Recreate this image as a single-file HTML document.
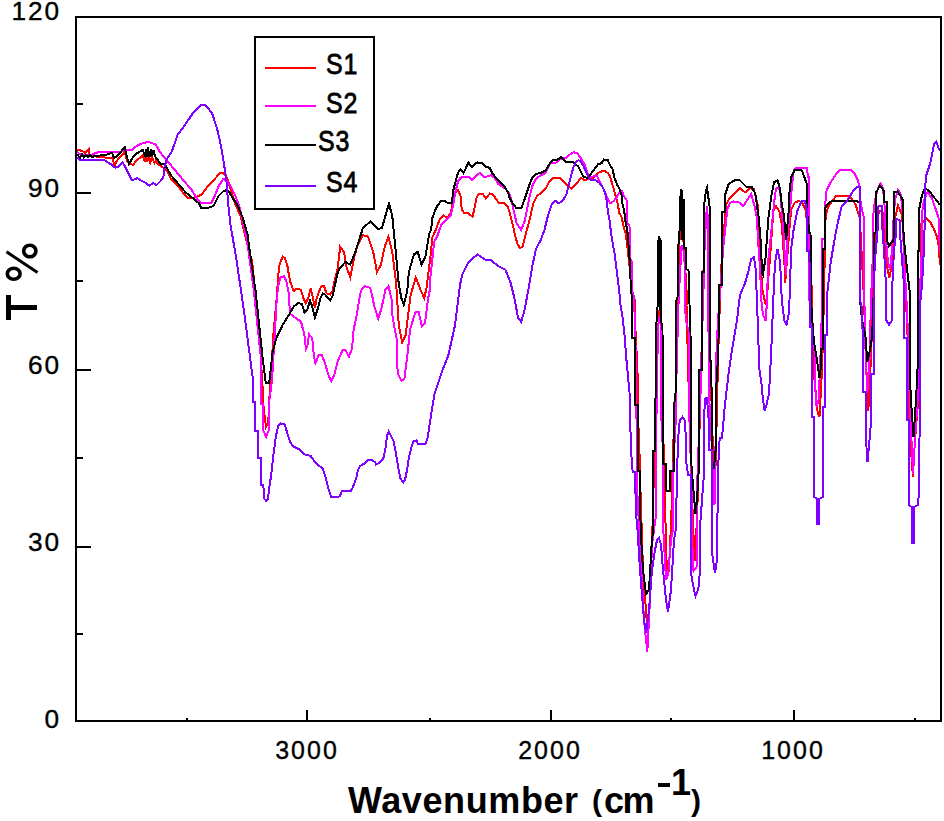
<!DOCTYPE html>
<html><head><meta charset="utf-8"><style>
html,body{margin:0;padding:0;background:#fff;}
body{width:944px;height:821px;position:relative;overflow:hidden;font-family:"Liberation Sans",sans-serif;}
svg{position:absolute;left:0;top:0;}
.t{position:absolute;white-space:nowrap;color:#000;line-height:1;}
.yl{font-size:25px;letter-spacing:1.8px;text-align:right;width:61px;-webkit-text-stroke:0.35px #000;transform:scaleX(1.05);transform-origin:59px 0;}
.xl{font-size:25px;letter-spacing:2px;text-align:center;width:100px;-webkit-text-stroke:0.35px #000;}
.lg{font-size:29px;font-weight:normal;-webkit-text-stroke:0.8px #000;letter-spacing:1px;transform:scaleX(0.86);transform-origin:0 0;}
</style></head><body>
<svg width="944" height="821" viewBox="0 0 944 821">
<g fill="none" stroke-linejoin="miter" shape-rendering="crispEdges">
<polyline points="76.0,149.6 78.1,149.6 82.4,151.2 85.0,153.0 88.7,149.6 89.2,155.4 91.9,156.0 104.6,157.5 112.0,157.5 114.7,165.0 116.3,161.8 118.4,158.6 120.5,156.5 124.7,152.2 127.4,161.8 130.0,163.9 133.2,165.0 136.4,160.2 139.6,158.1 142.7,154.9 144.9,161.8 146.0,156.0 147.0,162.0 148.5,157.0 150.2,163.0 152.0,157.0 154.4,163.0 156.0,160.0 157.6,163.9 160.7,166.0 163.9,168.1 167.1,171.3 171.0,179.0 178.3,186.3 185.6,196.0 189.2,198.5 195.3,197.3 201.4,194.8 208.7,185.0 214.8,179.0 219.7,172.9 223.3,172.9 227.0,177.8 230.6,188.7 235.5,204.6 240.4,215.5 245.3,236.2 252.2,262.0 256.0,300.0 260.7,352.5 262.0,380.0 263.2,394.0 263.2,403.7 264.5,415.0 266.1,427.0 267.5,424.0 268.8,414.8 268.8,402.0 270.2,390.0 273.6,332.0 273.6,332.0 276.5,300.0 279.0,266.5 282.6,256.5 285.0,258.0 287.5,266.5 290.0,281.2 293.6,291.0 297.2,288.5 301.0,290.0 303.3,298.0 305.8,303.0 308.2,298.0 310.6,288.5 313.0,298.0 314.9,308.0 316.7,298.0 319.2,291.0 321.6,286.0 324.0,286.0 326.5,293.3 330.1,294.6 332.6,291.0 335.0,278.7 337.4,270.2 339.3,254.4 340.2,246.8 344.0,251.9 346.5,267.1 350.3,277.3 354.2,257.0 358.0,244.2 363.0,235.3 368.1,236.6 373.2,251.9 377.0,272.2 380.9,264.6 384.7,246.8 388.5,236.6 392.3,251.9 396.1,282.4 398.8,325.2 402.2,342.3 405.6,335.5 410.7,294.5 415.8,277.5 421.0,291.0 424.3,298.0 426.6,287.5 430.4,257.0 432.4,237.4 436.1,229.0 439.7,219.2 443.4,215.5 447.0,218.0 450.7,213.1 453.1,200.9 455.6,192.4 458.0,190.0 460.5,196.0 461.7,209.4 464.1,213.1 467.8,213.1 472.6,216.7 474.5,208.2 476.3,198.5 478.7,193.6 482.4,193.6 486.0,198.5 489.7,193.6 493.3,194.8 496.4,199.7 499.4,203.3 504.3,203.3 508.0,207.0 510.4,215.5 512.8,225.3 515.3,236.2 517.5,244.0 520.0,248.0 522.5,247.0 524.9,237.4 529.7,219.2 533.4,203.3 537.0,196.0 541.9,192.4 545.6,188.7 549.2,181.4 552.9,177.8 560.2,177.8 563.8,181.4 567.5,185.1 571.2,188.7 573.6,186.3 577.2,182.6 580.9,177.8 584.6,180.2 589.4,179.0 593.1,177.8 598.0,172.9 604.0,170.5 607.7,172.9 610.1,176.5 612.6,185.1 615.0,193.6 617.4,202.1 619.3,213.1 621.8,217.3 623.0,224.5 626.0,235.0 630.0,270.0 632.4,300.0 634.6,300.0 634.6,314.0 636.0,340.0 637.6,374.7 637.6,405.0 640.0,467.0 640.0,476.0 643.0,570.0 647.3,629.0 650.0,600.0 652.0,545.0 654.0,470.0 656.0,400.0 658.0,330.0 659.5,310.0 661.0,320.0 663.0,420.0 664.3,480.0 666.0,540.0 667.0,578.0 669.0,570.0 671.4,514.0 673.0,450.0 676.0,385.0 678.0,300.0 679.5,240.0 681.0,220.0 683.9,245.0 686.5,290.0 686.5,305.0 689.0,400.0 691.0,470.0 694.5,561.0 697.0,520.0 699.5,430.0 701.8,340.0 704.0,250.0 707.0,207.0 709.5,250.0 710.5,360.0 712.0,420.0 714.5,500.0 716.0,450.0 718.0,360.0 720.0,300.0 722.3,245.0 724.9,220.0 726.0,205.0 728.4,200.0 733.0,195.0 740.0,188.2 745.1,192.4 750.2,188.2 753.7,189.0 755.4,195.9 757.9,206.1 759.5,240.0 761.0,270.0 762.5,290.0 764.5,300.0 765.8,305.0 767.5,290.0 769.0,270.0 770.7,248.8 773.3,211.2 775.9,206.1 779.3,211.2 781.8,225.0 784.4,262.4 785.2,283.0 787.0,260.0 789.5,228.3 791.2,209.5 794.6,202.7 798.9,201.0 802.3,202.7 805.5,210.0 807.4,225.0 809.4,231.7 811.0,260.0 812.5,330.0 814.5,380.0 817.6,412.0 819.5,416.8 821.5,380.0 823.0,340.0 824.8,254.0 825.6,216.3 828.0,207.0 835.9,195.9 849.5,195.9 855.5,204.4 859.8,218.0 862.0,260.0 864.0,300.0 866.0,360.0 868.3,411.0 870.0,380.0 872.0,330.0 874.0,260.0 875.9,233.4 875.9,220.7 879.8,211.0 883.8,212.8 883.8,225.4 886.0,250.0 887.0,266.6 889.4,277.7 891.7,266.6 893.5,240.0 894.5,220.0 898.0,205.6 902.0,215.0 903.6,236.0 906.0,300.0 907.6,337.5 909.0,412.0 911.0,450.0 912.9,476.5 915.0,440.0 917.5,409.0 918.6,394.5 919.4,300.0 921.0,290.0 921.0,224.0 926.6,218.3 930.5,222.3 933.7,228.6 936.9,236.5 938.5,244.5 940.0,265.0" stroke="#ff0000" stroke-width="2"/>
<polyline points="76.0,152.2 77.6,152.2 80.2,154.4 90.8,154.9 98.2,152.2 111.0,152.2 116.3,152.2 120.5,151.7 126.8,149.6 132.1,149.6 135.3,147.0 139.6,144.3 148.0,141.7 155.4,144.3 158.6,149.6 160.0,152.2 166.1,159.5 172.2,166.8 178.3,174.1 184.4,181.4 191.7,190.0 197.8,199.7 201.4,203.3 211.2,203.3 214.8,196.0 218.5,186.3 223.3,179.0 226.4,180.2 230.6,186.3 235.5,196.0 239.2,205.8 245.3,232.6 247.0,240.0 253.9,291.0 260.7,356.0 260.9,380.0 260.9,403.7 263.2,403.7 263.2,430.0 266.1,437.0 268.8,430.0 268.8,403.0 270.2,395.0 272.0,380.0 274.3,342.3 274.3,342.3 276.5,303.0 277.8,288.5 280.2,277.5 283.9,276.3 286.3,281.2 288.7,293.3 290.0,313.8 296.4,318.6 301.1,321.8 304.3,334.5 305.9,348.8 307.5,345.0 309.1,334.5 312.2,337.7 313.8,355.2 315.4,363.1 318.6,355.2 321.8,355.2 325.0,363.1 328.1,374.2 331.3,381.4 334.5,374.2 337.7,361.5 342.4,350.4 345.6,350.4 348.8,356.7 352.0,348.8 353.6,329.7 356.7,315.4 360.0,294.8 361.5,290.0 364.7,286.0 369.8,287.7 371.0,290.0 374.2,305.9 378.2,318.6 381.4,309.0 385.3,290.0 388.5,286.0 391.7,300.0 391.7,310.7 394.0,325.0 396.5,337.7 396.5,363.1 398.5,375.0 401.2,380.6 404.4,379.0 407.6,353.6 410.0,330.0 412.4,321.8 415.5,312.2 418.7,312.2 421.9,326.5 425.0,323.4 428.2,298.0 429.8,290.0 430.4,277.3 434.2,241.7 437.3,236.2 441.0,225.3 445.8,220.4 450.7,215.5 453.1,205.8 455.0,193.6 458.0,181.4 460.5,177.8 465.3,176.5 469.0,176.5 472.0,180.2 476.3,175.3 480.0,172.9 483.6,176.5 487.2,176.5 490.9,175.3 494.6,177.8 498.2,183.8 501.9,186.3 505.5,188.7 509.2,193.6 511.6,200.9 514.0,211.9 516.5,222.8 521.2,230.1 524.9,220.4 527.3,208.2 529.7,196.0 532.2,186.3 535.8,179.0 540.7,175.3 545.6,172.9 550.5,163.1 556.5,162.5 561.4,158.3 566.3,157.7 569.9,154.6 573.6,152.2 577.2,153.4 580.9,158.3 584.6,164.4 587.0,171.7 589.4,176.5 593.1,176.5 596.7,175.3 600.4,182.6 604.0,190.0 607.7,198.5 610.1,203.3 613.8,200.9 617.4,196.0 620.0,191.0 622.0,191.0 624.0,196.0 626.5,200.0 627.5,223.0 629.5,226.0 630.0,258.0 632.0,262.0 632.5,292.0 634.0,296.0 634.6,314.6 636.0,360.0 637.0,476.0 637.7,502.0 640.0,540.0 644.0,620.0 647.3,652.0 650.0,600.0 652.0,545.0 656.0,515.0 656.0,451.0 657.0,380.0 658.0,330.0 659.0,318.0 661.0,320.0 661.0,420.0 661.7,420.0 663.3,464.0 663.3,530.0 666.0,580.0 668.0,575.0 671.0,540.0 672.9,530.0 673.0,471.0 676.2,412.0 676.2,385.0 678.0,320.0 678.8,296.0 680.5,265.0 681.5,246.0 683.0,246.0 684.8,265.0 685.6,320.0 689.0,332.0 689.0,407.0 691.6,485.0 691.6,528.0 693.5,571.0 696.5,567.0 696.5,506.0 698.0,460.0 701.0,381.0 701.0,369.5 703.5,289.0 703.5,272.0 706.0,219.0 707.0,205.6 707.8,219.0 708.7,361.0 709.5,404.0 712.0,450.0 714.5,505.0 716.3,400.0 716.3,356.0 718.0,320.0 720.6,286.0 723.2,248.0 727.4,209.0 730.0,203.0 733.6,201.5 740.0,202.7 743.4,206.0 747.7,199.3 751.1,194.0 754.5,206.0 757.0,218.0 757.9,238.5 759.6,262.4 760.5,279.5 761.3,300.0 763.0,315.0 765.8,321.0 767.0,300.0 768.2,260.7 771.6,228.3 774.1,202.7 775.9,189.0 778.4,187.3 780.1,190.7 783.5,231.7 785.2,262.4 786.0,275.0 787.8,231.7 790.0,210.0 792.1,184.0 793.8,170.2 796.3,167.7 806.6,167.7 808.3,177.0 809.4,177.0 809.4,300.0 812.0,330.0 814.6,350.0 814.6,380.0 816.6,407.0 818.5,400.0 820.0,370.0 821.0,340.0 822.2,300.0 822.2,238.5 824.8,238.5 825.2,205.0 826.5,190.7 830.7,182.2 834.1,177.0 839.3,170.2 851.2,170.2 854.6,173.7 858.0,180.5 859.8,189.0 860.6,202.7 862.3,211.0 864.0,218.0 864.0,283.0 865.6,353.0 867.3,393.4 869.5,360.0 871.0,300.0 872.7,260.0 873.5,212.8 875.0,200.0 878.0,188.0 880.6,183.5 883.0,188.0 884.5,205.0 886.0,240.0 888.0,262.0 890.0,270.0 892.0,250.0 893.5,220.0 895.0,200.0 898.0,189.8 901.0,195.0 902.8,215.0 904.0,260.0 906.0,290.0 907.6,324.9 909.0,369.0 910.0,412.0 912.0,450.0 913.0,474.0 915.0,440.0 917.9,394.5 917.9,369.0 919.5,300.0 921.8,251.0 921.8,215.0 924.0,200.0 927.4,192.2 932.0,198.5 935.3,208.0 938.5,217.5 940.0,252.0" stroke="#ff00ff" stroke-width="2"/>
<polyline points="76.0,155.4 77.6,155.4 78.0,155.4 80.0,157.5 82.0,154.5 84.0,157.5 86.0,155.0 88.0,157.5 90.0,155.0 92.0,157.5 95.0,155.5 97.2,156.5 100.0,155.5 104.6,155.4 112.0,152.8 114.1,158.1 118.4,154.9 122.6,149.6 124.7,147.0 126.8,156.5 129.0,163.9 132.1,158.6 135.3,154.4 139.6,151.7 142.7,149.6 144.9,155.4 146.0,149.0 147.0,157.0 148.0,147.5 149.5,157.0 151.0,149.0 152.3,156.0 153.5,150.0 155.4,157.0 157.6,159.7 160.7,163.9 164.9,164.4 171.0,175.3 178.3,183.8 185.6,192.4 191.7,197.3 199.0,203.3 201.4,208.2 207.5,208.2 213.6,205.8 218.5,196.0 223.3,191.2 227.0,190.0 229.4,192.4 233.0,198.5 237.9,205.8 242.8,218.0 247.7,235.0 248.9,245.3 255.6,291.0 262.4,356.0 265.8,383.2 269.2,383.2 272.6,352.5 276.0,338.9 282.6,325.0 288.7,315.3 293.6,306.7 298.5,303.0 302.1,304.3 304.6,312.8 307.0,310.4 310.0,300.6 311.9,305.5 314.9,317.7 318.0,308.0 320.4,298.0 322.8,293.3 325.3,294.6 327.7,298.0 330.1,300.6 332.6,295.8 335.0,284.8 337.4,273.9 339.3,269.0 345.3,262.0 350.3,264.6 355.4,251.9 363.0,227.7 370.7,221.4 378.3,229.0 382.1,227.7 386.0,213.7 389.0,203.6 392.3,216.3 394.8,241.7 398.6,282.4 401.2,297.6 403.9,304.8 407.3,291.0 408.8,272.2 413.9,254.4 417.7,251.9 421.5,264.6 425.3,257.0 429.2,234.0 431.2,229.0 432.4,218.0 434.9,210.6 437.3,205.8 441.0,200.9 444.6,200.9 448.3,203.3 451.9,203.3 453.1,191.2 455.6,181.4 458.0,172.9 460.5,169.2 463.5,172.9 465.9,168.0 468.4,162.5 472.0,167.4 475.1,163.8 477.5,162.5 482.4,163.1 484.8,166.2 489.7,168.0 492.1,172.9 495.8,177.8 500.6,182.6 504.3,186.3 508.0,192.4 509.8,198.5 512.8,203.3 516.5,208.2 521.2,208.2 524.9,198.5 527.3,191.2 529.7,183.8 532.2,177.8 535.8,174.1 540.7,172.9 545.6,170.5 549.2,164.4 552.9,159.5 557.8,159.5 561.4,157.0 566.3,161.9 573.6,162.5 578.5,166.8 580.9,171.7 583.3,176.5 587.0,177.8 590.6,174.1 594.3,169.2 598.0,164.4 601.6,163.1 604.0,159.5 607.7,160.1 610.1,165.6 612.6,169.2 614.4,177.8 617.4,185.1 619.6,189.2 621.8,196.0 622.6,204.6 624.3,211.4 625.2,220.0 627.4,231.0 629.6,259.6 631.0,290.0 632.4,300.0 632.4,338.0 634.6,338.0 634.6,405.0 637.6,405.0 637.7,471.0 640.0,471.0 640.6,530.0 643.0,570.0 646.0,594.0 649.0,590.0 651.6,545.0 653.1,530.0 653.1,451.0 655.3,451.0 655.5,400.0 656.0,330.0 658.0,300.0 658.0,245.0 659.0,236.0 660.0,240.0 660.0,310.0 660.0,245.0 661.0,240.0 661.0,320.0 662.5,330.0 662.8,420.0 663.3,464.0 665.5,464.0 665.5,489.0 667.0,491.0 670.0,491.0 670.0,471.0 673.6,471.0 673.6,410.0 676.4,385.0 676.4,300.0 677.9,296.0 678.0,250.0 680.0,225.0 680.0,200.0 681.5,189.4 682.0,200.0 682.0,240.0 682.0,200.0 683.5,200.0 683.5,248.0 685.6,248.0 685.6,269.0 688.5,270.0 689.0,290.0 690.5,332.0 691.0,460.0 693.0,485.0 695.5,514.0 697.0,500.0 699.3,460.0 699.3,369.5 701.8,369.5 701.8,272.0 704.0,272.0 704.0,205.6 706.0,190.0 707.0,187.7 709.5,205.6 709.5,361.0 711.2,361.0 712.5,468.0 714.0,468.0 715.5,451.5 715.5,400.0 718.0,357.6 719.0,320.0 719.0,285.0 721.5,285.0 721.5,212.4 724.9,212.4 724.9,195.4 728.3,185.0 730.0,183.0 736.0,179.6 740.0,180.5 746.8,187.3 752.0,187.3 755.4,194.0 757.0,206.0 758.8,218.0 760.5,238.5 761.3,255.6 762.2,272.7 763.0,274.4 765.6,257.3 768.2,219.8 771.6,194.0 774.1,182.2 777.6,180.5 780.1,189.0 781.8,204.4 783.5,213.0 785.2,228.3 786.1,240.2 788.7,211.2 789.5,192.4 791.2,177.0 794.6,170.2 799.8,170.2 801.7,170.2 804.3,177.0 806.8,184.0 806.8,209.5 809.4,233.0 810.5,233.0 811.0,300.0 812.2,319.0 814.0,342.0 817.0,360.0 819.5,377.8 820.5,370.0 820.5,348.5 822.8,348.5 822.8,248.8 825.2,248.8 825.2,207.8 827.3,204.4 831.6,201.0 856.3,201.0 859.8,202.7 860.0,300.0 862.0,320.0 865.4,335.0 867.3,362.2 870.0,350.0 872.2,335.0 873.5,300.0 873.9,233.0 876.3,233.0 876.3,192.0 879.8,185.8 883.8,190.6 884.2,201.7 886.6,201.7 886.6,239.7 889.0,246.0 891.0,243.0 893.5,240.0 894.0,192.0 897.3,191.4 900.0,195.0 902.8,200.0 903.6,236.5 906.0,260.0 909.5,290.0 909.5,369.0 911.0,400.0 913.5,437.0 916.0,400.0 917.5,369.0 917.5,251.0 919.4,250.8 919.4,208.0 922.0,195.0 925.0,188.2 929.0,190.6 933.7,197.0 937.7,201.7 940.0,205.0" stroke="#000000" stroke-width="2"/>
<polyline points="76.0,157.5 77.6,157.5 80.2,160.2 104.6,160.2 107.8,162.3 112.0,165.0 115.2,167.6 118.4,166.5 122.6,162.3 124.7,166.0 127.9,172.4 130.0,176.6 132.1,180.3 137.4,178.2 141.7,180.8 145.9,183.0 149.1,185.6 153.3,183.0 156.5,185.0 160.7,180.8 163.4,177.7 164.0,169.2 166.6,159.7 169.2,155.4 171.9,151.2 174.5,143.8 177.7,134.7 185.3,124.5 193.0,113.0 200.6,105.4 205.7,105.4 212.0,113.0 217.0,128.3 219.7,140.0 222.1,152.2 224.6,168.0 226.4,180.2 228.2,204.6 230.6,225.3 233.1,240.0 236.2,258.0 243.6,308.2 253.0,380.0 253.0,402.0 255.3,402.0 255.3,430.6 258.2,430.6 258.2,457.6 260.9,457.6 260.9,484.5 263.2,484.5 264.5,499.0 266.4,501.0 268.0,499.0 268.8,490.8 271.2,475.0 273.5,454.4 275.9,436.2 278.3,425.9 280.6,423.5 284.6,424.3 287.0,432.2 290.1,441.7 293.3,446.5 299.6,449.6 304.4,454.4 310.7,456.0 313.9,460.7 318.6,465.5 322.6,468.6 325.0,475.0 328.1,487.6 331.3,497.1 337.6,497.1 340.0,496.0 342.0,490.7 351.0,490.7 353.0,487.0 356.1,478.7 358.0,470.0 360.0,466.0 364.7,463.3 368.0,460.0 371.5,459.9 375.0,462.0 376.0,464.5 378.3,463.3 381.0,461.0 383.4,458.2 385.5,448.0 387.0,436.0 388.6,431.6 390.0,434.0 393.7,441.2 396.0,454.0 398.0,466.0 400.5,478.7 403.3,482.4 405.0,480.0 407.0,470.0 409.0,457.0 411.5,446.9 413.5,441.4 416.6,440.5 418.0,444.0 420.4,444.3 425.5,444.3 427.7,437.7 429.3,426.5 431.9,410.0 434.6,393.4 441.4,373.0 448.2,355.9 455.0,325.2 460.1,284.3 462.2,274.8 468.6,262.0 477.5,254.4 485.1,259.5 490.2,259.5 497.8,265.9 505.4,269.7 510.5,282.4 514.3,297.6 518.1,318.0 521.2,321.8 524.5,310.4 528.3,290.0 532.1,267.1 535.9,249.3 540.7,240.0 544.4,230.1 548.0,215.5 551.7,204.6 555.3,200.9 559.0,203.3 562.6,200.9 566.3,194.8 568.7,185.1 571.2,175.3 573.6,166.8 576.0,161.9 578.5,160.1 580.9,161.9 583.3,165.6 585.8,171.7 588.2,176.5 590.6,180.2 595.5,180.2 599.2,182.6 602.8,187.5 604.8,192.0 606.5,200.0 608.0,212.0 609.5,220.0 611.0,232.5 613.0,245.0 614.5,253.0 616.0,265.0 617.0,273.5 618.5,285.0 619.5,294.0 620.5,305.0 622.2,314.6 624.4,333.7 626.6,361.5 629.5,392.2 630.2,420.0 631.0,450.0 632.6,471.5 634.8,471.5 636.2,515.0 637.5,530.0 640.0,570.0 644.0,620.0 646.2,633.0 649.0,610.0 652.0,570.0 655.0,550.0 657.0,540.0 659.0,538.0 661.0,545.0 663.0,570.0 666.0,600.0 668.0,611.5 671.0,590.0 674.0,540.0 676.0,528.0 677.0,470.0 678.8,427.6 680.0,420.0 682.5,417.0 684.5,420.0 685.6,432.7 686.0,460.0 688.0,475.0 690.6,475.0 690.6,571.0 693.0,585.0 695.5,596.0 698.0,590.0 699.4,582.5 700.5,520.0 703.5,480.0 703.5,420.0 705.5,398.0 707.0,398.0 708.7,420.0 709.5,450.0 712.0,450.0 712.0,553.0 715.0,573.0 717.0,560.0 718.0,470.0 719.7,437.8 722.0,437.8 724.9,405.0 728.3,376.0 731.5,352.9 737.0,320.0 740.0,295.0 745.1,283.0 748.5,271.0 751.1,259.0 753.7,257.3 755.4,265.9 757.0,300.0 758.1,334.3 759.5,370.0 761.4,382.5 763.0,400.0 764.7,411.0 766.5,405.0 769.0,393.5 771.3,349.6 773.3,300.0 775.0,262.4 777.6,248.8 780.1,262.4 781.8,300.0 784.4,321.0 786.6,324.4 788.5,315.0 789.5,300.0 791.2,248.8 793.8,228.3 797.2,211.2 801.5,201.0 804.9,201.0 806.8,209.5 806.8,250.5 809.4,250.5 809.8,290.0 809.8,327.0 812.2,327.0 812.2,416.8 814.2,416.8 814.2,497.0 817.0,499.0 817.0,524.0 819.0,524.0 819.0,499.0 822.9,497.0 822.9,407.0 824.9,407.0 824.9,335.0 827.3,335.0 827.3,293.2 830.7,262.4 834.1,242.0 837.6,223.2 841.8,206.1 847.0,201.0 851.2,194.1 854.6,189.0 856.3,187.3 859.8,187.3 860.0,300.0 862.4,310.0 862.9,391.5 865.8,391.5 866.0,440.0 867.5,462.0 869.5,440.0 871.2,420.0 871.2,374.0 873.7,374.0 873.7,290.0 875.0,260.0 878.3,222.0 878.3,206.4 879.8,206.0 882.2,206.4 882.2,225.4 884.6,260.0 886.2,290.0 886.2,320.0 889.0,325.0 892.1,320.0 892.1,290.0 894.0,250.0 895.7,236.5 895.7,220.0 897.3,219.0 900.4,221.0 900.4,238.0 902.0,260.0 904.4,290.0 904.4,337.5 906.8,337.5 906.8,420.0 908.5,420.0 908.5,505.0 912.0,507.0 912.0,542.5 914.0,542.5 914.0,507.0 918.4,505.0 919.8,420.0 919.8,307.4 921.5,290.0 923.0,270.0 925.0,217.5 925.0,188.0 926.4,175.0 930.3,163.0 934.2,143.4 936.2,141.5 939.1,149.3 940.0,151.0" stroke="#8000ff" stroke-width="2"/>
</g>
<g stroke="#000" stroke-width="2" fill="none" shape-rendering="crispEdges">
<rect x="76" y="17" width="865" height="704"/>
<line x1="76" y1="193" x2="90.5" y2="193"/><line x1="76" y1="370" x2="90.5" y2="370"/><line x1="76" y1="547" x2="90.5" y2="547"/><line x1="76" y1="104" x2="83" y2="104"/><line x1="76" y1="281" x2="83" y2="281"/><line x1="76" y1="458" x2="83" y2="458"/><line x1="76" y1="634" x2="83" y2="634"/><line x1="307" y1="721" x2="307" y2="710"/><line x1="551" y1="721" x2="551" y2="710"/><line x1="794" y1="721" x2="794" y2="710"/><line x1="187" y1="721" x2="187" y2="717.5"/><line x1="430" y1="721" x2="430" y2="717.5"/><line x1="671" y1="721" x2="671" y2="717.5"/><line x1="915" y1="721" x2="915" y2="717.5"/>
<rect x="255" y="37" width="119" height="172" fill="#fff"/>
</g>
<g stroke-width="2" shape-rendering="crispEdges">
<line x1="265" y1="68" x2="316" y2="68" stroke="#ff0000"/>
<line x1="265" y1="106" x2="316" y2="106" stroke="#ff00ff"/>
<line x1="265" y1="145" x2="316" y2="145" stroke="#000"/>
<line x1="265" y1="186" x2="316" y2="186" stroke="#8000ff"/>
</g>
<g fill="#000">
<rect x="6" y="295" width="5" height="25"/>
<rect x="11" y="305" width="26" height="5"/>
</g>
<g fill="none" stroke="#000" stroke-width="3.6">
<ellipse cx="29.8" cy="251" rx="6.1" ry="5.8"/>
<ellipse cx="13.7" cy="273.8" rx="6.4" ry="5.5"/>
<line x1="6.5" y1="251.8" x2="37.5" y2="272.6" stroke-width="3"/>
</g>
</svg>
<div class="t yl" style="left:0px;top:-1px">120</div>
<div class="t yl" style="left:0px;top:176px">90</div>
<div class="t yl" style="left:0px;top:353px">60</div>
<div class="t yl" style="left:0px;top:530px">30</div>
<div class="t yl" style="left:0px;top:707px">0</div>
<div class="t xl" style="left:257px;top:738px">3000</div>
<div class="t xl" style="left:500px;top:738px">2000</div>
<div class="t xl" style="left:743px;top:738px">1000</div>
<div class="t lg" style="left:326px;top:50px">S1</div>
<div class="t lg" style="left:326px;top:89px">S2</div>
<div class="t lg" style="left:318px;top:127px">S3</div>
<div class="t lg" style="left:326px;top:168px">S4</div>
<div class="t" style="left:348px;top:783px;font-size:36px;font-weight:bold;letter-spacing:0.6px">Wavenumber</div>
<div class="t" style="left:592px;top:786px;font-size:30px;font-weight:bold">(</div>
<div class="t" style="left:604px;top:783px;font-size:36px;font-weight:bold;letter-spacing:-1.5px">cm</div>
<div style="position:absolute;left:658px;top:783px;width:12px;height:4px;background:#000"></div>
<div class="t" style="left:671px;top:765px;font-size:36px;font-weight:bold">1</div>
<div class="t" style="left:691px;top:786px;font-size:30px;font-weight:bold">)</div>

</body></html>
